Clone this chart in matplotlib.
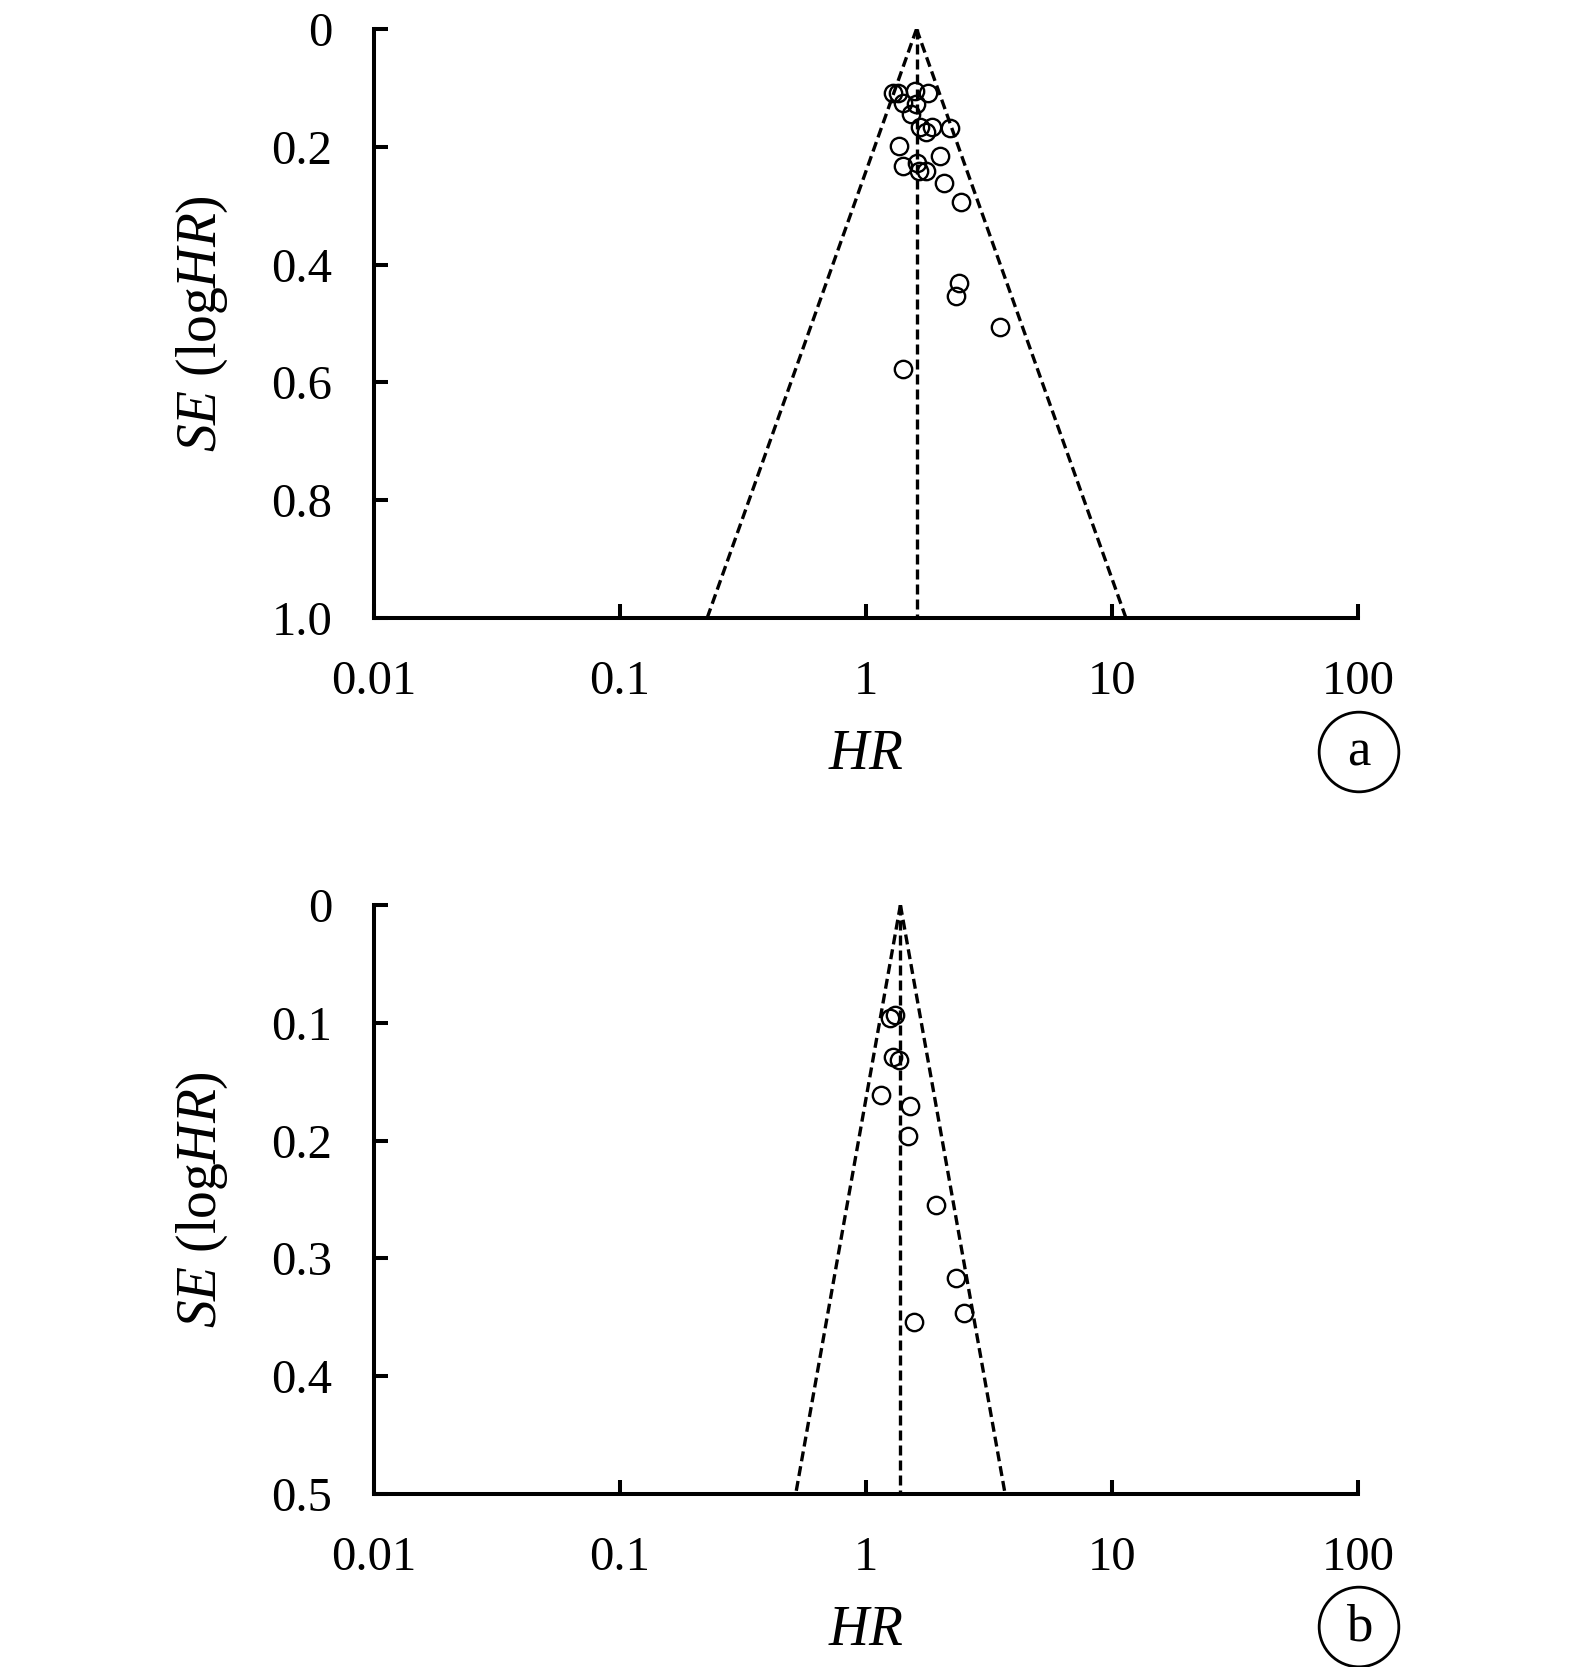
import numpy as np
import matplotlib.pyplot as plt

plt.rcParams['font.family'] = ['Liberation Serif', 'DejaVu Serif']
plt.rcParams['mathtext.fontset'] = 'custom'
plt.rcParams['mathtext.rm'] = 'Liberation Serif'
plt.rcParams['mathtext.it'] = 'Liberation Serif:italic'

# panel a: study HR and SE(logHR)
hr_a = [1.29, 1.35, 1.58, 1.79, 1.42, 1.59, 1.53, 1.65, 1.85, 1.75, 2.19, 1.36,
        2.00, 1.42, 1.61, 1.64, 1.75, 2.07, 2.44, 2.39, 2.32, 3.52, 1.41]
se_a = [0.108, 0.108, 0.105, 0.108, 0.125, 0.127, 0.145, 0.166, 0.166, 0.175, 0.168, 0.199,
        0.216, 0.233, 0.228, 0.241, 0.241, 0.261, 0.294, 0.432, 0.453, 0.506, 0.578]
pooled_a = 1.605
semax_a = 1.0
yticks_a = [0, 0.2, 0.4, 0.6, 0.8, 1.0]
ylabels_a = ["0", "0.2", "0.4", "0.6", "0.8", "1.0"]

# panel b
hr_b = [1.25, 1.31, 1.29, 1.36, 1.15, 1.51, 1.48, 1.92, 2.32, 2.51, 1.57]
se_b = [0.096, 0.093, 0.129, 0.132, 0.161, 0.171, 0.196, 0.255, 0.317, 0.346, 0.354]
pooled_b = 1.38
semax_b = 0.5
yticks_b = [0, 0.1, 0.2, 0.3, 0.4, 0.5]
ylabels_b = ["0", "0.1", "0.2", "0.3", "0.4", "0.5"]

xticks = [0.01, 0.1, 1, 10, 100]
xlabels = ["0.01", "0.1", "1", "10", "100"]

W, H = 1575, 1667
fig = plt.figure(figsize=(W / 100, H / 100), dpi=100)

def funnel(rect, hr, se, pooled, semax, yt, yl, tag, tag_y):
    ax = fig.add_axes(rect)
    ax.set_xscale('log')
    ax.set_xlim(0.01, 100)
    ax.set_ylim(semax, 0)
    # pooled line and 95% pseudo-CI limits
    dash = dict(color='black', lw=2.4, linestyle=(0, (3.0, 1.5)))
    ax.plot([pooled, pooled], [0, semax], **dash)
    ax.plot([pooled, pooled * np.exp(-1.96 * semax)], [0, semax], **dash)
    ax.plot([pooled, pooled * np.exp(1.96 * semax)], [0, semax], **dash)
    ax.plot(hr, se, 'o', mfc='none', mec='black', ms=12.5, mew=1.7, zorder=5)
    for s in ['top', 'right']:
        ax.spines[s].set_visible(False)
    for s in ['left', 'bottom']:
        ax.spines[s].set_linewidth(2.9)
    ax.set_xticks(xticks)
    ax.set_xticklabels(xlabels)
    ax.minorticks_off()
    ax.set_yticks(yt)
    ax.set_yticklabels(yl)
    ax.tick_params(direction='in', length=10, width=2.9, labelsize=35)
    ax.tick_params(axis='y', pad=30)
    ax.tick_params(axis='x', pad=30)
    ax.set_xlabel('$HR$', fontsize=40, va='center')
    ax.xaxis.set_label_coords(0.5, -0.233)
    ax.set_ylabel(r'$SE$ (log$HR$)', fontsize=40, va='center')
    ax.yaxis.set_label_coords(-0.175, 0.5)
    fig.text(1359 / W, 1 - tag_y / H, tag, fontsize=38, ha='center', va='center',
             bbox=dict(boxstyle='circle,pad=0.3', fc='none', ec='black', lw=2.0))
    return ax

funnel([374 / W, 1 - 618 / H, 984 / W, 589 / H], hr_a, se_a, pooled_a, semax_a,
       yticks_a, ylabels_a, 'a', 752)
funnel([374 / W, 1 - 1494 / H, 984 / W, 589 / H], hr_b, se_b, pooled_b, semax_b,
       yticks_b, ylabels_b, 'b', 1627)

fig.savefig('out.png', dpi=100)
